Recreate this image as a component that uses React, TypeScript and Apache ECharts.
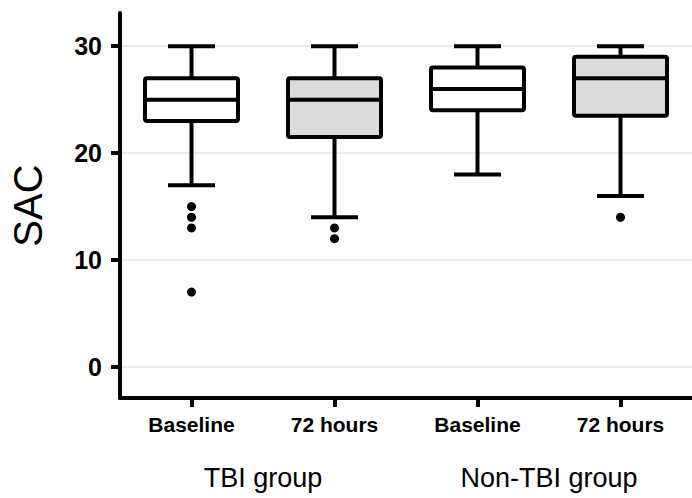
import React, { useEffect, useRef } from "react";
import * as echarts from "echarts";

// Categories and groups
const CATEGORIES = ["Baseline", "72 hours", "Baseline", "72 hours"];
const GROUPS = ["TBI group", "Non-TBI group"];
// Box statistics per category: [min whisker, Q1, median, Q3, max whisker]
const WHISKER_LOW = [17, 14, 18, 16];
const Q1 = [23, 21.5, 24, 23.5];
const MEDIAN = [25, 25, 26, 27];
const Q3 = [27, 27, 28, 29];
const WHISKER_HIGH = [30, 30, 30, 30];
// Outliers: [category index, value]
const OUTLIERS: [number, number][] = [
  [0, 15], [0, 14], [0, 13], [0, 7],
  [1, 13], [1, 12],
  [3, 14],
];
const Y_TICKS = [0, 10, 20, 30];

const FILLS = ["#ffffff", "#dcdcdc", "#ffffff", "#dcdcdc"];
const BOX_W = 93;
const CAP_W = 47;
const LW = 4;
const FONT = "Liberation Sans";

export default function App() {
  const ref = useRef<HTMLDivElement>(null);
  useEffect(() => {
    if (!ref.current) return;
    const chart = echarts.init(ref.current, undefined, { renderer: "svg" });
    const boxData = CATEGORIES.map((_, i) => [
      i, WHISKER_LOW[i], Q1[i], MEDIAN[i], Q3[i], WHISKER_HIGH[i],
    ]);
    const option: any = {
      animation: false,
      backgroundColor: "#ffffff",
      grid: { left: 120, top: 13, width: 576, bottom: 100, containLabel: false },
      xAxis: [
        {
          type: "category",
          data: CATEGORIES,
          boundaryGap: true,
          axisLine: { show: true, onZero: false, lineStyle: { color: "#000", width: LW } },
          axisTick: { show: true, alignWithLabel: true, length: 9, lineStyle: { color: "#000", width: LW } },
          axisLabel: { color: "#000", fontFamily: FONT, fontWeight: "bold", fontSize: 21, margin: 16, interval: 0 },
          splitLine: { show: false },
        },
        {
          type: "category",
          data: GROUPS,
          position: "bottom",
          offset: 50,
          boundaryGap: true,
          axisLine: { show: false, onZero: false },
          axisTick: { show: false },
          axisLabel: { color: "#000", fontFamily: FONT, fontSize: 27, margin: 16, interval: 0 },
          splitLine: { show: false },
        },
      ],
      yAxis: {
        type: "value",
        min: -2.9,
        max: 33.1,
        name: "SAC",
        nameLocation: "middle",
        nameRotate: 90,
        nameGap: 72,
        nameTextStyle: { color: "#000", fontFamily: FONT, fontSize: 40 },
        axisLine: { show: true, lineStyle: { color: "#000", width: LW } },
        axisTick: { show: true, length: 9, customValues: Y_TICKS, lineStyle: { color: "#000", width: LW } },
        axisLabel: { color: "#000", fontFamily: FONT, fontWeight: "bold", fontSize: 25, margin: 18, customValues: Y_TICKS },
        splitLine: { show: true, lineStyle: { color: "#e4e4e4", width: 1.5 } },
      },
      series: [
        {
          type: "custom",
          xAxisIndex: 0,
          yAxisIndex: 0,
          data: boxData,
          encode: { x: 0, y: [1, 2, 3, 4, 5] },
          renderItem: (params: any, api: any) => {
            const c = api.value(0);
            const lo = api.coord([c, api.value(1)]);
            const q1 = api.coord([c, api.value(2)]);
            const med = api.coord([c, api.value(3)]);
            const q3 = api.coord([c, api.value(4)]);
            const hi = api.coord([c, api.value(5)]);
            const cx = lo[0];
            const st = { stroke: "#000", lineWidth: LW, fill: "none" };
            return {
              type: "group",
              children: [
                { type: "line", shape: { x1: cx, y1: hi[1], x2: cx, y2: q3[1] }, style: st },
                { type: "line", shape: { x1: cx, y1: q1[1], x2: cx, y2: lo[1] }, style: st },
                { type: "line", shape: { x1: cx - CAP_W / 2, y1: hi[1], x2: cx + CAP_W / 2, y2: hi[1] }, style: st },
                { type: "line", shape: { x1: cx - CAP_W / 2, y1: lo[1], x2: cx + CAP_W / 2, y2: lo[1] }, style: st },
                {
                  type: "rect",
                  shape: { x: cx - BOX_W / 2, y: q3[1], width: BOX_W, height: q1[1] - q3[1], r: 2 },
                  style: { fill: FILLS[params.dataIndex], stroke: "#000", lineWidth: LW },
                },
                { type: "line", shape: { x1: cx - BOX_W / 2, y1: med[1], x2: cx + BOX_W / 2, y2: med[1] }, style: st },
              ],
            };
          },
        },
        {
          type: "scatter",
          xAxisIndex: 0,
          yAxisIndex: 0,
          data: OUTLIERS,
          symbol: "circle",
          symbolSize: 9,
          itemStyle: { color: "#000", opacity: 1 },
        },
      ],
    };
    chart.setOption(option);
    return () => chart.dispose();
  }, []);
  return (
    <div
      ref={ref}
      style={{ position: "absolute", left: 0, top: 0, width: 692, height: 498, background: "#fff" }}
    />
  );
}
